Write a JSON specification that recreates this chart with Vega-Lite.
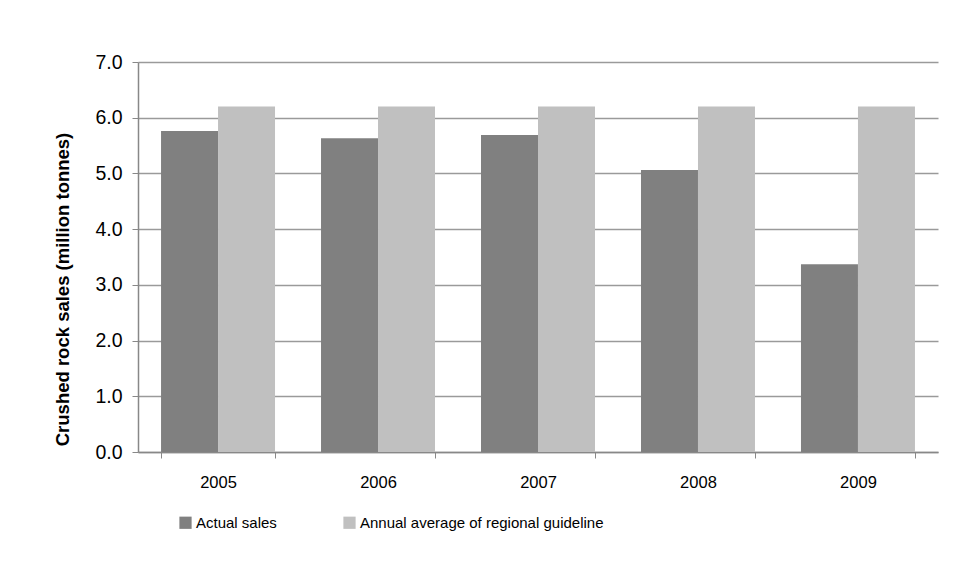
{
  "$schema": "https://vega.github.io/schema/vega-lite/v6.json",
  "autosize": {"type": "none"},
  "width": 800,
  "height": 390,
  "padding": {"left": 138, "top": 62, "right": 22, "bottom": 132},
  "background": "white",
  "data": {
    "values": [
      {"year": "2005", "series": "Actual sales", "value": 5.76},
      {"year": "2005", "series": "Annual average of regional guideline", "value": 6.2},
      {"year": "2006", "series": "Actual sales", "value": 5.63},
      {"year": "2006", "series": "Annual average of regional guideline", "value": 6.2},
      {"year": "2007", "series": "Actual sales", "value": 5.69},
      {"year": "2007", "series": "Annual average of regional guideline", "value": 6.2},
      {"year": "2008", "series": "Actual sales", "value": 5.06},
      {"year": "2008", "series": "Annual average of regional guideline", "value": 6.2},
      {"year": "2009", "series": "Actual sales", "value": 3.37},
      {"year": "2009", "series": "Annual average of regional guideline", "value": 6.2}
    ]
  },
  "mark": {"type": "bar"},
  "encoding": {
    "x": {
      "field": "year",
      "type": "nominal",
      "scale": {"paddingInner": 0.2875, "paddingOuter": 0.144},
      "axis": {
        "title": null,
        "labelAngle": 0,
        "labelFont": "Liberation Sans",
        "labelFontSize": 16.5,
        "labelColor": "black",
        "labelPadding": 16,
        "domainColor": "#888888",
        "domainWidth": 1.5,
        "tickColor": "#888888",
        "tickSize": 6,
        "tickBand": "extent",
        "grid": false
      }
    },
    "xOffset": {"field": "series", "type": "nominal", "scale": {"paddingInner": 0, "paddingOuter": 0}},
    "y": {
      "field": "value",
      "type": "quantitative",
      "scale": {"domain": [0, 7], "nice": false},
      "axis": {
        "title": "Crushed rock sales (million tonnes)",
        "titleFont": "Liberation Sans",
        "titleFontSize": 18.5,
        "titleFontWeight": "bold",
        "titleColor": "black",
        "titlePadding": 22,
        "titleY": 227,
        "values": [0, 1, 2, 3, 4, 5, 6, 7],
        "format": ".1f",
        "labelFont": "Liberation Sans",
        "labelFontSize": 19.5,
        "labelColor": "black",
        "labelPadding": 10,
        "domainColor": "#888888",
        "domainWidth": 1.5,
        "tickColor": "#888888",
        "tickSize": 6,
        "grid": true,
        "gridColor": "#9a9a9a",
        "gridWidth": 1.5
      }
    },
    "color": {
      "field": "series",
      "type": "nominal",
      "scale": {"domain": ["Actual sales", "Annual average of regional guideline"], "range": ["#808080", "#c0c0c0"]},
      "legend": {
        "title": null,
        "orient": "none",
        "legendX": 40,
        "legendY": 453,
        "direction": "horizontal",
        "symbolType": "square",
        "symbolSize": 150,
        "symbolStrokeWidth": 0,
        "symbolOpacity": 1,
        "labelFont": "Liberation Sans",
        "labelFontSize": 15,
        "labelColor": "black",
        "labelOffset": 3,
        "labelLimit": 500,
        "columnPadding": 65
      }
    }
  },
  "config": {"view": {"stroke": null}}
}
